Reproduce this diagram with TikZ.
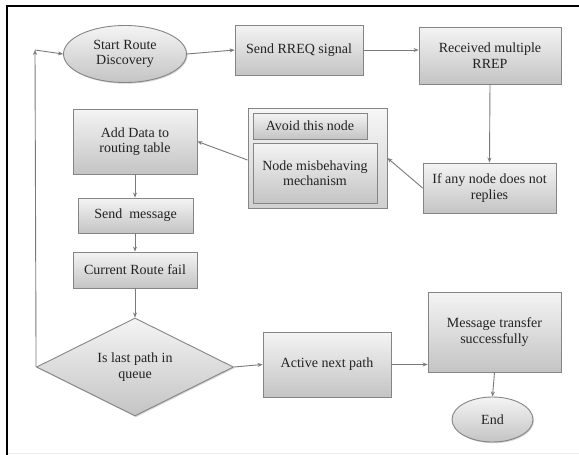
\documentclass[tikz,border=0pt]{standalone}
\usepackage{fontspec}
\setmainfont{Liberation Serif}
\newfontfamily\diagfont{Liberation Serif}
\usetikzlibrary{shapes.geometric,shadows,arrows.meta}
\definecolor{bordc}{HTML}{858585}
\definecolor{topc}{HTML}{F4F4F4}
\definecolor{botc}{HTML}{C4C4C4}
\definecolor{txtc}{HTML}{222222}
\definecolor{linec}{HTML}{7A7A7A}
\tikzset{
  base/.style={draw=bordc, line width=0.9pt, top color=topc, bottom color=botc,
    drop shadow={shadow xshift=1pt, shadow yshift=-1.2pt, opacity=0.35},
    text=txtc, font=\diagfont\fontsize{14}{15.5}\selectfont, align=center, inner sep=0pt},
  boxn/.style={base, rectangle},
  ovaln/.style={base, ellipse},
  decn/.style={base, diamond, aspect=2},
  groupn/.style={draw=bordc, line width=0.9pt, top color=topc!80!white, bottom color=botc!80!white,
    drop shadow={shadow xshift=1pt, shadow yshift=-1.2pt, opacity=0.3}, rectangle, inner sep=0pt},
  conn/.style={draw=linec, line width=0.9pt, -{Stealth[length=5pt,width=4pt]}}
}
\begin{document}
\begin{tikzpicture}[x=1pt,y=-1pt]
\useasboundingbox (0,0) rectangle (579,455);
\fill[white] (0,0) rectangle (579,455);
% frame
\draw[black!8, line width=0.8pt] (7,453.5) -- (579,453.5);
\draw[black, line width=2pt] (7,455) -- (7,6) -- (579,6);

% nodes
\node[ovaln, minimum width=123pt, minimum height=57pt] (start) at (125,54) {Start Route\\Discovery};
\node[boxn, minimum width=128pt, minimum height=50pt] (rreq) at (299,50) {Send RREQ signal};
\node[boxn, minimum width=142pt, minimum height=57pt] (rrep) at (490,55.5) {Received multiple\\RREP};
\node[groupn, minimum width=139pt, minimum height=100pt] (grp) at (317.5,158) {};
\node[boxn, minimum width=114pt, minimum height=26pt] (avoid) at (310,126) {Avoid this node};
\node[boxn, minimum width=124pt, minimum height=60pt] (misb) at (315,173) {Node misbehaving\\mechanism};
\node[boxn, minimum width=133pt, minimum height=50pt] (ifany) at (489.5,188) {If any node does not\\replies};
\node[boxn, minimum width=124pt, minimum height=65pt] (add) at (135,141.5) {Add Data to\\routing table};
\node[boxn, minimum width=115pt, minimum height=35pt] (send) at (135.5,215.5) {Send\ \ message};
\node[boxn, minimum width=124pt, minimum height=36pt] (fail) at (135,270) {Current Route fail};
\node[decn, minimum width=197pt, minimum height=98pt] (last) at (135,367) {Is last path in\\queue};
\node[boxn, minimum width=128pt, minimum height=65pt] (active) at (327,364.5) {Active next path};
\node[boxn, minimum width=133pt, minimum height=80pt] (msg) at (494.5,332) {Message transfer\\successfully};
\node[ovaln, minimum width=81pt, minimum height=45pt] (endn) at (492.5,419.5) {End};

\coordinate (corner) at (35,50);

% connectors
\draw[conn] (start.east) -- (rreq.west);
\draw[conn] (rreq.east) -- (rrep.west |- rreq.east);
\draw[conn] (rrep.south) -- (ifany.north);
\draw[conn] (ifany.west) -- (grp.east);
\draw[conn] (grp.west) ++(0,2) -- (add.east);
\draw[conn] (add.south) -- (send.north -| add.south);
\draw[conn] (send.south -| fail.north) -- (fail.north);
\draw[conn] (fail.south) -- (last.north);
\draw[conn] (last.east) -- (active.west);
\draw[conn] (active.east) -- (msg.west |- active.east);
\draw[conn] (msg.south) -- (endn.north);
\draw[conn] (last.west) -- (corner);
\draw[conn] (corner) -- (start.west);
\end{tikzpicture}
\end{document}
